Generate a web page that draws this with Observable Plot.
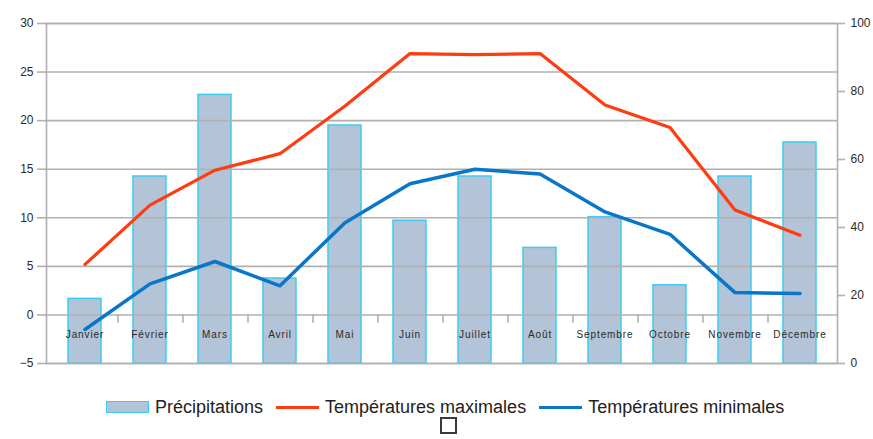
<!DOCTYPE html>
<html>
<head>
<meta charset="utf-8">
<script src="https://cdn.jsdelivr.net/npm/d3@7"></script>
<script src="https://cdn.jsdelivr.net/npm/@observablehq/plot@0.6"></script>
<style>
  html, body { margin: 0; padding: 0; background: #fff; }
  #wrap { position: relative; width: 873px; height: 439px; font-family: "Liberation Sans", Arial, sans-serif; }
  #legend { position: absolute; left: 106px; top: 397px; display: flex; align-items: center; font-size: 18px; color: #222; white-space: nowrap; height: 20px; }
  .sw-bar { width: 41px; height: 10px; background: #b4c4d8; border: 1.5px solid #3ccbf0; margin-right: 6px; }
  .sw-line { width: 43px; height: 3px; margin-right: 6px; }
  .item { display: flex; align-items: center; margin-right: 13px; }
  #box { position: absolute; left: 440px; top: 417px; width: 13px; height: 13px; border: 2px solid #3a3a3a; }
  .month-label text { letter-spacing: 0.9px; }
</style>
</head>
<body>
<div id="wrap">
  <div id="chart"></div>
  <div id="legend"></div>
  <div id="box"></div>
</div>
<script>
const months = ["Janvier","Février","Mars","Avril","Mai","Juin","Juillet","Août","Septembre","Octobre","Novembre","Décembre"];
const precipitations = [19, 55, 79, 25, 70, 42, 55, 34, 43, 23, 55, 65];
const tempMax = [5.2, 11.3, 14.9, 16.6, 21.5, 26.9, 26.8, 26.9, 21.6, 19.3, 10.8, 8.2];
const tempMin = [-1.5, 3.2, 5.5, 3.0, 9.5, 13.5, 15.0, 14.5, 10.6, 8.3, 2.3, 2.2];
const leftTicks = [-5, 0, 5, 10, 15, 20, 25, 30];
const rightTicks = [0, 20, 40, 60, 80, 100];
const seriesNames = ["Précipitations", "Températures maximales", "Températures minimales"];

const colors = { bar: "#b4c4d8", barStroke: "#3ccbf0", max: "#ff3b10", min: "#0a76c9", grid: "#b0b0b0" };

// map precipitation (0..100, right axis) onto the left temperature scale (-5..30)
const yMin = -5, yMax = 30, pMax = 100;
const toLeft = p => yMin + p * (yMax - yMin) / pMax;
const fromLeft = y => Math.round((y - yMin) * pMax / (yMax - yMin));

const rows = months.map((m, i) => ({ month: m, precip: precipitations[i], tmax: tempMax[i], tmin: tempMin[i] }));

const chart = Plot.plot({
  width: 873,
  height: 375,
  marginTop: 23,
  marginBottom: 12,
  marginLeft: 46,
  marginRight: 36,
  style: { fontFamily: "Liberation Sans, Arial, sans-serif", fontSize: "12px", color: "#2a2a2a", background: "#fff" },
  x: { domain: months, paddingInner: 0.5, paddingOuter: 0.25, axis: null },
  y: { domain: [yMin, yMax], axis: null },
  marks: [
    Plot.barY(rows, { x: "month", y1: yMin, y2: d => toLeft(d.precip), fill: colors.bar, stroke: colors.barStroke, strokeWidth: 1.5 }),
    Plot.gridY(leftTicks, { stroke: colors.grid, strokeOpacity: 1, strokeWidth: 1.6 }),
    Plot.frame({ stroke: colors.grid, strokeWidth: 1.6 }),
    Plot.ruleX(months.slice(0, months.length - 1), { x: d => d, y1: 0, y2: -0.85, dx: 33, stroke: colors.grid, strokeWidth: 1.6 }),
    Plot.axisY(leftTicks, { anchor: "left", tickSize: 9, tickPadding: 4, stroke: colors.grid, strokeWidth: 1.6, fill: "#2a2a2a", fontSize: 12 }),
    Plot.axisY(rightTicks.map(toLeft), { anchor: "right", tickSize: 7, tickPadding: 6, tickFormat: d => fromLeft(d), stroke: colors.grid, strokeWidth: 1.6, fill: "#2a2a2a", fontSize: 12 }),
    Plot.text(rows, { x: "month", y: 0, dy: 20, text: "month", fontSize: 10, fill: "#2a2a2a", className: "month-label" }),
    Plot.line(rows, { x: "month", y: "tmax", stroke: colors.max, strokeWidth: 3.2 }),
    Plot.line(rows, { x: "month", y: "tmin", stroke: colors.min, strokeWidth: 3.5 })
  ]
});
document.getElementById("chart").appendChild(chart);

const legend = document.getElementById("legend");
const swatches = [
  `<span class="sw-bar"></span>`,
  `<span class="sw-line" style="background:${colors.max}"></span>`,
  `<span class="sw-line" style="background:${colors.min}"></span>`
];
legend.innerHTML = seriesNames.map((n, i) => `<span class="item">${swatches[i]}<span>${n}</span></span>`).join("");
</script>
</body>
</html>
